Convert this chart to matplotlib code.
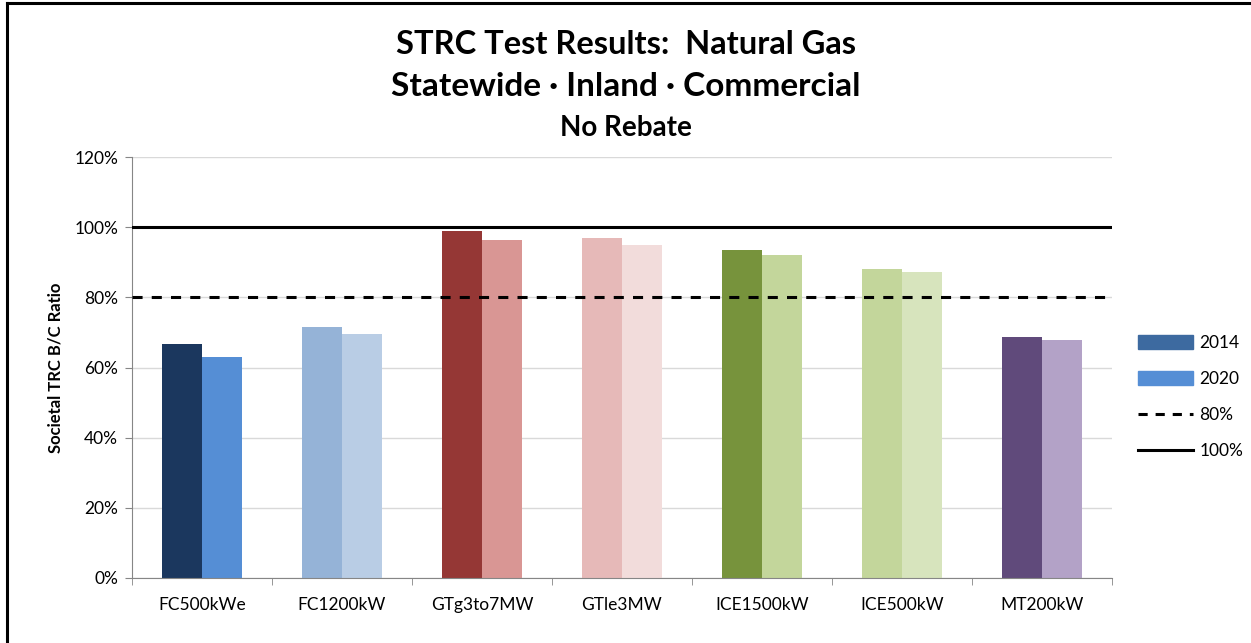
import matplotlib.pyplot as plt
import numpy as np
from matplotlib.lines import Line2D
from matplotlib.patches import Patch

# data
categories = ['FC500kWe', 'FC1200kW', 'GTg3to7MW', 'GTle3MW', 'ICE1500kW', 'ICE500kW', 'MT200kW']
ratio_2014 = [66.6, 71.5, 98.9, 96.9, 93.4, 88.1, 68.6]
ratio_2020 = [62.9, 69.6, 96.2, 94.9, 92.1, 87.1, 67.9]
colors_2014 = ['#1B375E', '#95B3D7', '#953735', '#E6B9B8', '#77933C', '#C3D69B', '#604A7B']
colors_2020 = ['#558ED5', '#B9CDE5', '#D99694', '#F2DCDB', '#C3D69B', '#D7E4BD', '#B3A2C7']
ref_levels = [80, 100]
yticks = [0, 20, 40, 60, 80, 100, 120]

plt.rcParams['font.family'] = ['Lato', 'DejaVu Sans']

fig = plt.figure(figsize=(12.51, 6.43), dpi=100)
ax = fig.add_axes([132/1251, 1-578/643, 980/1251, (578-157)/643])

x = np.arange(len(categories))
w = 0.2836
ax.bar(x - w/2, ratio_2014, w, color=colors_2014, zorder=2)
ax.bar(x + w/2, ratio_2020, w, color=colors_2020, zorder=2)

ax.plot([-0.5, 6.5], [ref_levels[0]]*2, color='black', lw=2.2, dashes=(3.3, 3.0), zorder=3)
ax.plot([-0.5, 6.5], [ref_levels[1]]*2, color='black', lw=2.2, zorder=3)

ax.set_xlim(-0.5, 6.5)
ax.set_ylim(0, 120)
ax.set_yticks(yticks)
ax.set_yticklabels(['%d%%' % v for v in yticks], fontsize=12.5)
ax.grid(axis='y', color='#D9D9D9', lw=1, zorder=0)
ax.set_xticks(x)
ax.set_xticklabels(categories, fontsize=12.5)
ax.set_xticks(np.arange(-0.5, 7, 1), minor=True)
ax.tick_params(axis='x', which='major', length=0, pad=14)
ax.tick_params(axis='x', which='minor', length=5, color='#868686')
ax.tick_params(axis='y', length=5, color='#868686', pad=5)
for s in ['top', 'right']:
    ax.spines[s].set_visible(False)
for s in ['left', 'bottom']:
    ax.spines[s].set_color('#868686')

ax.set_ylabel('Societal TRC B/C Ratio', fontsize=12, fontweight='bold', labelpad=8)

fig.text(0.5, 1-44/643, 'STRC Test Results:  Natural Gas', ha='center', va='center', fontsize=23.5, fontweight='bold')
fig.text(0.5, 1-86/643, 'Statewide \u00b7 Inland \u00b7 Commercial', ha='center', va='center', fontsize=24, fontweight='bold')
fig.text(0.5, 1-128/643, 'No Rebate', ha='center', va='center', fontsize=20, fontweight='bold')

handles = [Patch(color='#3D6AA0'), Patch(color='#558ED5'),
           Line2D([], [], color='black', lw=2.2, dashes=(3.0, 2.6)),
           Line2D([], [], color='black', lw=2.2)]
fig.legend(handles, ['2014', '2020', '80%', '100%'], loc='center left',
           bbox_to_anchor=(1122/1251, 1-397/643), frameon=False, fontsize=12.5,
           handlelength=3.2, handleheight=0.8, labelspacing=1.15, handletextpad=0.35)

# partial frame (top and left only)
fig.add_artist(Line2D([6.5/1251, 6.5/1251], [0, 1-2.5/643], color='black', lw=2.2))
fig.add_artist(Line2D([6.5/1251, 1], [1-2.5/643, 1-2.5/643], color='black', lw=2.2))

fig.savefig('out.png', dpi=100)
